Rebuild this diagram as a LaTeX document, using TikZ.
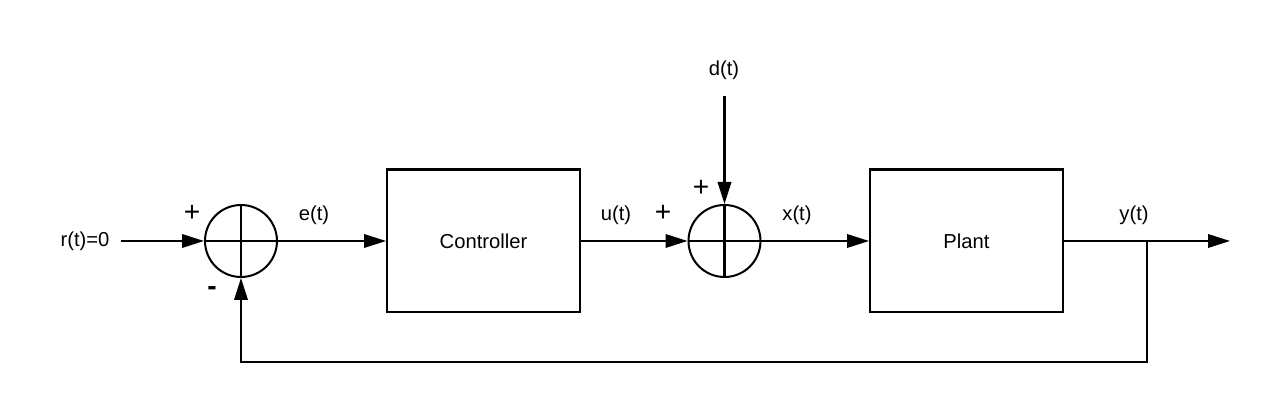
\documentclass[tikz,border=0pt]{standalone}
\usepackage{fontspec}
\setmainfont{Liberation Sans}
\usetikzlibrary{arrows.meta}

\begin{document}
\begin{tikzpicture}[x=0.02cm,y=-0.02cm,line width=1.15pt,
    every node/.style={font=\fontsize{11.5}{13}\selectfont},
    signlbl/.style={font=\fontsize{16}{18}\selectfont},
    sumjunc/.style={draw,circle,minimum size=1.44cm,inner sep=0pt},
    blockbox/.style={draw,rectangle,minimum width=3.86cm,minimum height=2.86cm},
    sig/.style={-{Triangle[length=0.44cm,width=0.27cm]}}]
\useasboundingbox (0,0) rectangle (1276,411);
    % blocks
    \node[sumjunc] (sum1) at (241,241) {};
    \node[blockbox] (ctrl) at (483.5,241) {Controller};
    \node[sumjunc] (sum2) at (724.5,241) {};
    \node[blockbox] (plant) at (966.5,241) {Plant};
    \draw (sum1.north) -- (sum1.south) (sum1.west) -- (sum1.east);
    \draw (sum2.north) -- (sum2.south) (sum2.west) -- (sum2.east);
    % signals
    \node (ref) at (85,241) {r(t)=0};
    \node (dist) at (724,70) {d(t)};
    \coordinate (start) at (121,241);
    \coordinate (dtop) at (724.5,96);
    \coordinate (branch) at (1147,241);
    \coordinate (out) at (1230,241);
    \coordinate (fb) at (1147,362);
    \node (err) at (314,215) {e(t)};
    \node (ctl) at (616,215) {u(t)};
    \node (xin) at (797,215) {x(t)};
    \node (yout) at (1134,215) {y(t)};
    \node[signlbl] (p1) at (192,213) {+};
    \node[signlbl,font=\bfseries\fontsize{16}{18}\selectfont] (m1) at (212,291) {-};
    \node[signlbl] (p2) at (663,213) {+};
    \node[signlbl] (p3) at (701,188) {+};
    % connectors
    \draw[sig] (start) -- (sum1.west);
    \draw[sig] (sum1.east) -- (ctrl.west);
    \draw[sig] (ctrl.east) -- (sum2.west);
    \draw[sig] (dtop) -- (sum2.north);
    \draw[sig] (sum2.east) -- (plant.west);
    \draw[sig] (plant.east) -- (out);
    \draw[sig] (branch) -- (fb) -| (sum1.south);
\end{tikzpicture}
\end{document}
